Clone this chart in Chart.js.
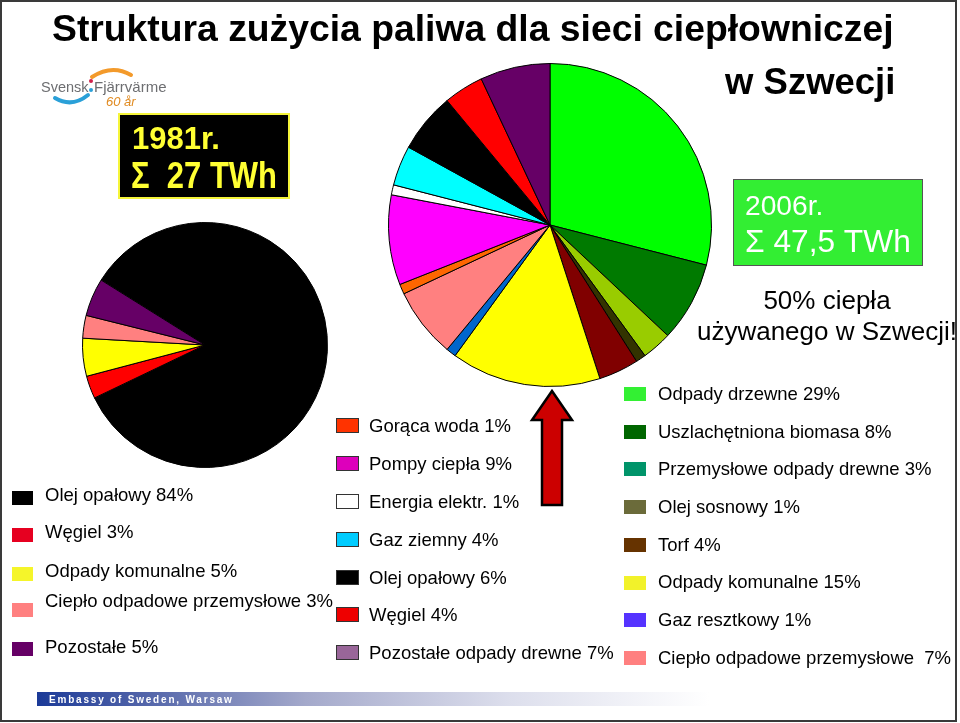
<!DOCTYPE html>
<html><head><meta charset="utf-8">
<script src="https://cdn.jsdelivr.net/npm/chart.js@4.4.1/dist/chart.umd.min.js"></script>
<style>
html,body{margin:0;padding:0;background:#fff;}
#stage{position:relative;width:960px;height:723px;overflow:hidden;background:#fff;font-family:"Liberation Sans",Arial,sans-serif;}
.t{position:absolute;white-space:pre;color:#000;}
canvas{position:absolute;}
.sw{position:absolute;box-sizing:border-box;}
</style></head>
<body>
<div id="stage">
  <div style="position:absolute;left:0;top:0;width:957px;height:722px;border:2px solid #3a3a3a;box-sizing:border-box;"></div>
  <canvas id="pie1981" width="246" height="246" style="left:82px;top:222px;"></canvas>
  <canvas id="pie2006" width="324" height="324" style="left:388px;top:63px;"></canvas>
  <svg width="960" height="723" style="position:absolute;left:0;top:0;pointer-events:none;">
    <path d="M92 77 Q112 64 131 75" stroke="#f39a2b" stroke-width="4" fill="none" stroke-linecap="round"/>
    <path d="M55 98 Q72 108 88 95" stroke="#2aa0d8" stroke-width="4" fill="none" stroke-linecap="round"/>
    <circle cx="91" cy="81" r="2" fill="#d0204a"/>
    <circle cx="91" cy="90" r="2" fill="#2aa0d8"/>
    <polygon points="552,391 572,420 562,420 562,505 542,505 542,420 532,420" fill="#cc0000" stroke="#000" stroke-width="2.5" stroke-linejoin="miter"/>
    <defs><linearGradient id="bar" x1="0" x2="1" y1="0" y2="0">
      <stop offset="0" stop-color="#1b3a98"/><stop offset="0.15" stop-color="#4f62a8"/>
      <stop offset="0.4" stop-color="#a4a9cb"/><stop offset="0.7" stop-color="#dcdeec"/><stop offset="1" stop-color="#ffffff"/>
    </linearGradient></defs>
    <rect x="37" y="692" width="672" height="14" fill="url(#bar)"/>
  </svg>
  <div style="position:absolute;left:118px;top:113px;width:172px;height:86px;background:#000;border:2px solid #f5f53a;box-sizing:border-box;"></div>
  <div style="position:absolute;left:733px;top:179px;width:190px;height:87px;background:#33ee33;border:1px solid #555;box-sizing:border-box;"></div>
</div>
<script>
// ---- data ----
const categories1981 = ["Olej opałowy", "Węgiel", "Odpady komunalne", "Ciepło odpadowe przemysłowe", "Pozostałe"];
const values1981 = [84, 3, 5, 3, 5];

const categories2006 = ["Odpady drzewne", "Uszlachętniona biomasa", "Przemysłowe odpady drewne", "Olej sosnowy",
  "Torf", "Odpady komunalne", "Gaz resztkowy", "Ciepło odpadowe przemysłowe ",
  "Gorąca woda", "Pompy ciepła", "Energia elektr.", "Gaz ziemny", "Olej opałowy", "Węgiel", "Pozostałe odpady drewne"];
const values2006 = [29, 8, 3, 1, 4, 15, 1, 7, 1, 9, 1, 4, 6, 4, 7];

// ---- styles ----
const pieColors1981 = ["#000000", "#ff0000", "#ffff00", "#ff8080", "#660066"];
const legendColors1981 = ["#000000", "#e60020", "#f5f52a", "#ff8080", "#660066"];
const pieColors2006 = ["#00ff00", "#007a00", "#99cc00", "#333300", "#800000", "#ffff00", "#0066cc", "#ff8080",
  "#ff6600", "#ff00ff", "#ffffff", "#00ffff", "#000000", "#ff0000", "#660066"];
const legendColors2006 = ["#33f033", "#006600", "#00946a", "#6b6b3a", "#663300", "#f2f22a", "#5533ff", "#ff8080",
  "#ff3300", "#dd00bb", "#ffffff", "#00ccff", "#000000", "#ee0000", "#996699"];

const stage = document.getElementById('stage');
function txt(s, x, base, size, opt) {
  opt = opt || {};
  const d = document.createElement('div');
  d.className = 't';
  d.textContent = s;
  d.style.left = x + 'px';
  d.style.top = (base - 0.8465 * size) + 'px';
  d.style.fontSize = size + 'px';
  d.style.lineHeight = size + 'px';
  if (opt.bold) d.style.fontWeight = 'bold';
  if (opt.italic) d.style.fontStyle = 'italic';
  if (opt.color) d.style.color = opt.color;
  if (opt.ls) d.style.letterSpacing = opt.ls + 'px';
  if (opt.transform) { d.style.transform = opt.transform; d.style.transformOrigin = '0 ' + (0.8465 * size) + 'px'; }
  if (opt.center) { d.style.transform = 'translateX(-50%)'; }
  stage.appendChild(d);
  return d;
}
function swatch(x, y, w, h, color, border) {
  const d = document.createElement('div');
  d.className = 'sw';
  d.style.left = x + 'px'; d.style.top = y + 'px';
  d.style.width = w + 'px'; d.style.height = h + 'px';
  d.style.background = color;
  if (border) d.style.border = '1px solid ' + border;
  stage.appendChild(d);
}

// titles
txt("Struktura zużycia paliwa dla sieci ciepłowniczej", 52, 42, 37.3, {bold: true});
txt("w Szwecji", 725, 95, 36.5, {bold: true});
// logo text
txt("Svensk", 41, 92, 14.5, {color: "#6d6e71"});
txt("Fjärrvärme", 94, 92, 15, {color: "#6d6e71"});
txt("60 år", 106, 106, 13, {color: "#e08a20", italic: true});
// year boxes
txt("1981r.", 132, 149, 31, {bold: true, color: "#ffff33"});
txt("Σ  27 TWh", 131, 188, 31, {bold: true, color: "#ffff33", transform: "scaleY(1.22)"});
txt("2006r.", 745, 215, 28.2, {color: "#ffffff"});
txt("Σ 47,5 TWh", 745, 253, 31.7, {color: "#ffffff"});
txt("50% ciepła", 827, 309, 26, {center: true});
txt("używanego w Szwecji!", 827, 340, 26, {center: true});
// footer
txt("Embassy of Sweden, Warsaw", 49, 703, 10, {bold: true, color: "#ffffff", ls: 1.8});

// legends
const FS = 18.5;
const leftSw = [498, 535, 573.5, 610, 648.5];
const leftBase = [502, 539, 578, 608, 654];
categories1981.forEach((c, i) => {
  swatch(12, leftSw[i] - 7, 21, 14, legendColors1981[i]);
  txt(c + " " + values1981[i] + "%", 45, leftBase[i], FS);
});
// right column: first 8 of 2006
for (let i = 0; i < 8; i++) {
  const cy = 394 + i * 37.7;
  swatch(624, cy - 7, 22, 14, legendColors2006[i]);
  txt(categories2006[i] + " " + values2006[i] + "%", 658, cy + 6.5, FS);
}
// middle column: remaining 7
for (let i = 8; i < 15; i++) {
  const k = i - 8;
  const cy = 425.8 + k * 37.8;
  swatch(336, cy - 7.5, 23, 15, legendColors2006[i], "#333");
  txt(categories2006[i] + " " + values2006[i] + "%", 369, cy + 7.3, FS);
}

// charts
function pie(id, labels, data, colors, rotation) {
  return new Chart(document.getElementById(id), {
    type: 'pie',
    data: {labels: labels, datasets: [{data: data, backgroundColor: colors, borderColor: '#000', borderWidth: 1, hoverOffset: 0, offset: 0}]},
    options: {
      responsive: false, animation: false, events: [], rotation: rotation,
      layout: {padding: 0},
      plugins: {legend: {display: false}, tooltip: {enabled: false}}
    }
  });
}
pie('pie1981', categories1981, values1981, pieColors1981, -58);
pie('pie2006', categories2006, values2006, pieColors2006, 0);
</script>
</body></html>
